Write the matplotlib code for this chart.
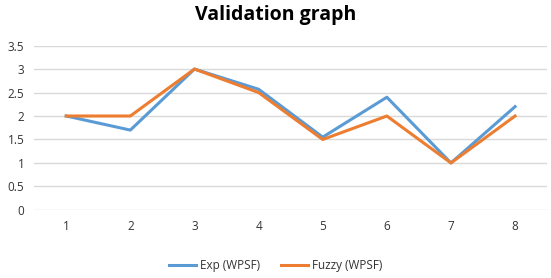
import matplotlib
matplotlib.use("Agg")
import matplotlib.pyplot as plt

categories = ['1', '2', '3', '4', '5', '6', '7', '8']
exp_wpsf = [2.0, 1.7, 3.0, 2.57, 1.55, 2.4, 1.0, 2.2]
fuzzy_wpsf = [2.0, 2.0, 3.0, 2.5, 1.5, 2.0, 1.0, 2.0]
y_ticks = [0, 0.5, 1, 1.5, 2, 2.5, 3, 3.5]
y_labels = ['0', '0.5', '1', '1.5', '2', '2.5', '3', '3.5']

plt.rcParams['font.family'] = ['Open Sans', 'DejaVu Sans']

fig = plt.figure(figsize=(5.51, 2.78), dpi=100)
ax = fig.add_axes([0.062, 0.245, 0.931, 0.591])

x = list(range(1, len(categories) + 1))
ax.plot(x, exp_wpsf, color='#5B9BD5', linewidth=2.2, label='Exp (WPSF)')
ax.plot(x, fuzzy_wpsf, color='#ED7D31', linewidth=2.2, label='Fuzzy (WPSF)')

ax.set_xlim(0.5, 8.5)
ax.set_ylim(0, 3.5)
ax.set_xticks(x)
ax.set_xticklabels(categories)
ax.set_yticks(y_ticks)
ax.set_yticklabels(y_labels)
ax.tick_params(length=0, labelsize=8.5, colors='#333333', pad=7)
ax.grid(axis='y', color='#D9D9D9', linewidth=1)
ax.set_axisbelow(True)
for s in ax.spines.values():
    s.set_visible(False)

fig.text(0.5, 0.945, 'Validation graph', ha='center', va='center',
         fontsize=14, fontweight='bold', color='#000000')

fig.legend(loc='center', bbox_to_anchor=(0.5, 0.045), ncol=2, frameon=False,
           fontsize=8.5, handlelength=2.3, columnspacing=1.8, handletextpad=0.3)
for t in fig.legends[0].get_texts():
    t.set_color('#333333')

fig.savefig('out.png', dpi=100)
